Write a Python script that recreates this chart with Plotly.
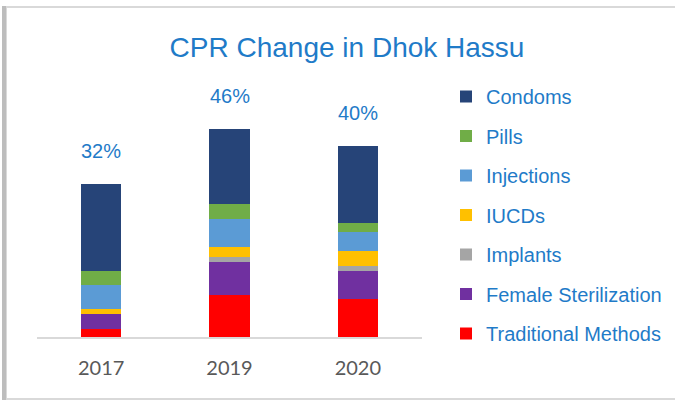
import plotly.graph_objects as go

years = ["2017", "2019", "2020"]
total_labels = ["32%", "46%", "40%"]

traditional = [1.7, 8.9, 8.0]
female_sterilization = [3.2, 7.0, 6.0]
implants = [0.0, 0.9, 1.05]
iucds = [1.0, 2.1, 3.1]
injections = [5.1, 6.1, 3.9]
pills = [3.0, 3.0, 2.1]
condoms = [18.2, 15.9, 16.1]

series = [
    ("Traditional Methods", traditional, "#FF0000"),
    ("Female Sterilization", female_sterilization, "#7030A0"),
    ("Implants", implants, "#A5A5A5"),
    ("IUCDs", iucds, "#FFC000"),
    ("Injections", injections, "#5B9BD5"),
    ("Pills", pills, "#70AD47"),
    ("Condoms", condoms, "#264478"),
]

W, H = 675, 401
L, R, T, B = 37, 253, 100, 64
pw = W - L - R
ph = H - T - B

def px_x(x):
    return (x - L) / pw

def px_y(y):
    return (H - B - y) / ph

FONT = "Liberation Sans Narrow, Arial Narrow, Liberation Sans, Arial, sans-serif"
BLUE = "#1F7BC8"

fig = go.Figure()
n = len(series)
for i, (name, vals, color) in enumerate(series):
    fig.add_trace(go.Bar(
        x=years, y=vals, name=name, marker=dict(color=color, line=dict(width=0)),
        legendgroup=str(i), legendrank=n - i, hoverinfo="skip",
    ))

totals = [sum(v[i] for _, v, _ in series) for i in range(len(years))]
for idx, (tot, lab) in enumerate(zip(totals, total_labels)):
    # category axis: annotation x is the category index
    fig.add_annotation(x=idx, y=tot, text=lab, showarrow=False, yanchor="bottom",
                       yshift=20, font=dict(family=FONT, size=20, color=BLUE))

# chart border
fig.add_shape(type="rect", xref="paper", yref="paper",
              x0=px_x(6), x1=px_x(690), y0=px_y(399), y1=px_y(7),
              line=dict(color="#D9D9D9", width=2), layer="below")
fig.add_shape(type="line", xref="paper", yref="paper",
              x0=px_x(4), x1=px_x(4), y0=px_y(400), y1=px_y(6),
              line=dict(color="#BDBDBD", width=4), layer="below")

fig.update_layout(
    width=W, height=H,
    margin=dict(l=L, r=R, t=T, b=B, pad=0, autoexpand=False),
    barmode="stack",
    bargap=1 - 40 / 128,
    paper_bgcolor="white", plot_bgcolor="white",
    title=dict(text="CPR Change in Dhok Hassu", x=347 / W, xanchor="center",
               y=1 - 47 / H, yanchor="middle", yref="container", xref="container",
               font=dict(family=FONT, size=28, color=BLUE)),
    xaxis=dict(type="category", range=[-0.5, len(years) - 0.5],
               showline=True, linecolor="#D9D9D9", linewidth=2, ticks="",
               tickfont=dict(family="Lato, Carlito, sans-serif", size=20, color="#595959"),
               ticklabelstandoff=12, showgrid=False, fixedrange=True),
    yaxis=dict(range=[0, 50], visible=False, showgrid=False, fixedrange=True),
    legend=dict(x=px_x(446), y=px_y(77), xanchor="left", yanchor="top",
                traceorder="grouped", tracegroupgap=10.5, maxheight=1.0,
                font=dict(family=FONT, size=20, color=BLUE),
                bgcolor="rgba(0,0,0,0)", itemwidth=30),
    showlegend=True,
)

fig.write_html("out.html")
